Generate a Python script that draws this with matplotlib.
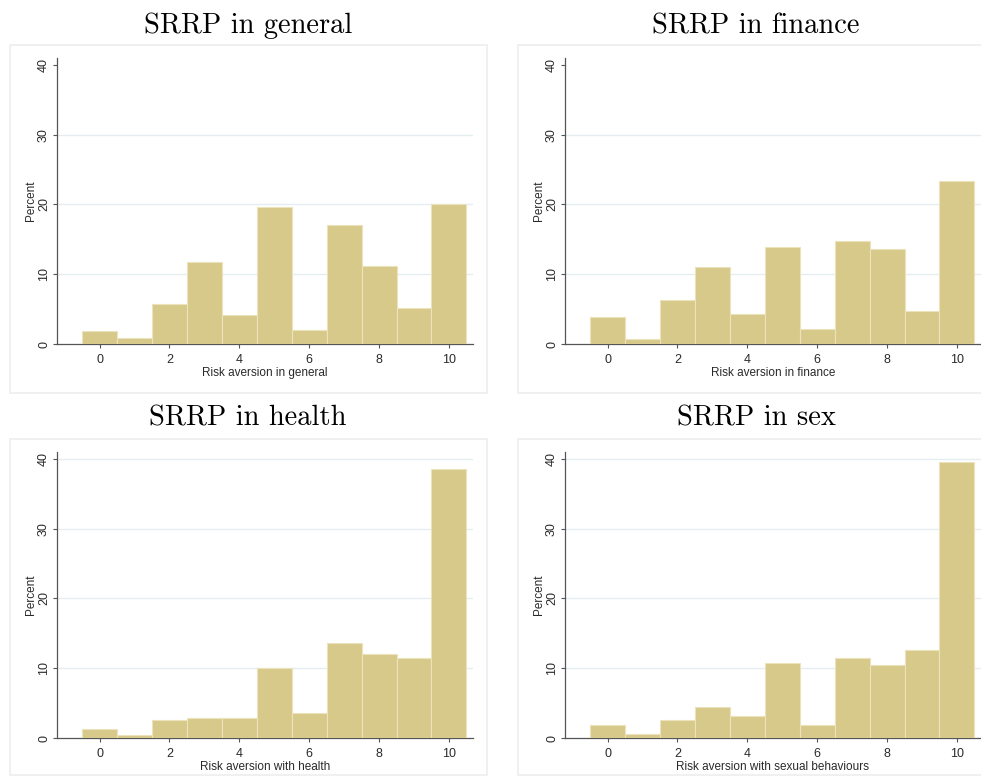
import matplotlib
matplotlib.use("Agg")
import matplotlib.pyplot as plt
from matplotlib.patches import Rectangle

# risk aversion scores 0..10
scores = list(range(11))

general = [1.8, 0.8, 5.7, 11.7, 4.2, 19.7, 2.0, 17.0, 11.2, 5.2, 20.0]
finance = [3.9, 0.7, 6.3, 11.1, 4.3, 13.9, 2.1, 14.8, 13.6, 4.8, 23.4]
health = [1.3, 0.4, 2.6, 2.8, 2.8, 10.0, 3.6, 13.6, 12.1, 11.4, 38.6]
sex = [1.8, 0.6, 2.6, 4.5, 3.2, 10.8, 1.9, 11.4, 10.4, 12.6, 39.5]

titles = ["SRRP in general", "SRRP in finance", "SRRP in health", "SRRP in sex"]
xlabels = ["Risk aversion in general", "Risk aversion in finance",
           "Risk aversion with health", "Risk aversion with sexual behaviours"]
series = [general, finance, health, sex]

W, H = 981, 777
bar_color = "#d7c98a"
grid_color = "#e4eef0"
text_color = "#2a2a2a"

fig = plt.figure(figsize=(W / 100, H / 100), dpi=100)
fig.patch.set_facecolor("white")

# layout in pixels: (box_left, box_top, box_bottom, ax_left, ax_right, ax_top, ax_bottom, title_y)
panels = [
    (10, 45, 393, 57, 473, 58, 344, 26),
    (518, 45, 393, 565, 981, 58, 344, 26),
    (10, 439, 775, 57, 473, 452, 738, 418),
    (518, 439, 775, 565, 981, 452, 738, 418),
]

for i, (bl, bt, bb, al, ar, at, ab, ty) in enumerate(panels):
    # light Stata-like graph region, kept behind the axes
    fig.patches.append(Rectangle((bl / W, 1 - bb / H), 477 / W, (bb - bt) / H,
                                 transform=fig.transFigure, facecolor="white",
                                 edgecolor="#eeeeee", linewidth=1.2, zorder=-5))
    ax = fig.add_axes([al / W, 1 - ab / H, (ar - al) / W, (ab - at) / H])
    ax.set_facecolor("none")
    ax.bar(scores, series[i], width=1.0, color=bar_color,
           edgecolor="#ece3bd", linewidth=0.8, zorder=3)
    ax.set_xlim(-1.22, 10.69)
    ax.set_ylim(0, 41)
    grid_levels = [10, 20, 30] if i < 2 else [10, 20, 30, 40]
    for g in grid_levels:
        ax.axhline(g, color=grid_color, linewidth=1.0, zorder=1)
    ax.set_xticks([0, 2, 4, 6, 8, 10])
    ax.set_yticks([0, 10, 20, 30, 40])
    for s in ["top", "right"]:
        ax.spines[s].set_visible(False)
    for s in ["left", "bottom"]:
        ax.spines[s].set_color("#555555")
        ax.spines[s].set_linewidth(0.9)
    ax.tick_params(axis="both", length=3, width=0.8, color="#555555",
                   labelsize=9, labelcolor=text_color, pad=4)
    ax.tick_params(axis="y", labelrotation=90, pad=2)
    for lbl in ax.get_yticklabels():
        lbl.set_va("center")
        lbl.set_family("Liberation Sans")
    for lbl in ax.get_xticklabels():
        lbl.set_family("Liberation Sans")
    ax.set_ylabel("Percent", fontsize=8.5, color=text_color,
                  family="Liberation Sans", labelpad=1)
    ax.set_xlabel(xlabels[i], fontsize=8.5, color=text_color,
                  family="Liberation Sans", labelpad=1)
    cx = (bl + 238) / W
    fig.text(cx, 1 - ty / H, titles[i], ha="center", va="center",
             fontsize=20.5, family="cmr10", color="black")

fig.savefig("out.png", dpi=100)
